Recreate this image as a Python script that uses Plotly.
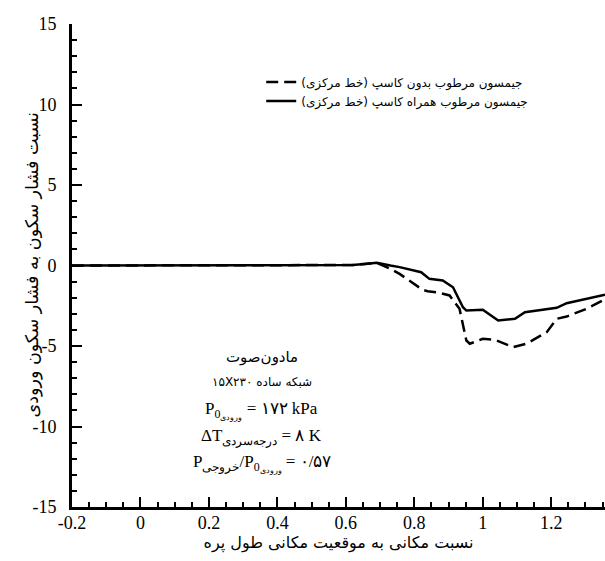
import plotly.graph_objects as go

# Series: without cusp (dashed) and with cusp (solid)
x_no_cusp = [-0.2, -0.1, 0.0, 0.1, 0.2, 0.3, 0.4, 0.5, 0.6, 0.62, 0.655, 0.69, 0.73, 0.757, 0.776, 0.824, 0.839, 0.865,
             0.903, 0.932, 0.952, 0.962, 1.0, 1.035, 1.089, 1.128, 1.187, 1.216, 1.245, 1.303, 1.357]
y_no_cusp = [0, 0, 0, 0, 0, 0, 0, 0, 0, 0.03, 0.1, 0.17, -0.2, -0.52, -0.8, -1.51, -1.6, -1.66,
             -1.86, -2.69, -4.66, -4.86, -4.55, -4.61, -5.07, -4.86, -4.14, -3.31, -3.17, -2.69, -2.1]

x_cusp = [-0.2, -0.1, 0.0, 0.1, 0.2, 0.3, 0.4, 0.5, 0.6, 0.62, 0.655, 0.69, 0.73, 0.757, 0.82, 0.844, 0.883,
          0.913, 0.942, 0.952, 1.0, 1.045, 1.094, 1.123, 1.216, 1.245, 1.357]
y_cusp = [0, 0, 0, 0, 0, 0, 0, 0, 0, 0.03, 0.1, 0.17, 0.0, -0.1, -0.42, -0.83, -0.93,
          -1.35, -2.59, -2.8, -2.75, -3.42, -3.31, -2.9, -2.63, -2.34, -1.82]

RLM = "\u200f"
LRM = "\u200e"

name_no_cusp = "جیمسون مرطوب بدون کاسپ (خط مرکزی)" + RLM
name_cusp = "جیمسون مرطوب همراه کاسپ (خط مرکزی)" + RLM

x_title = "نسبت مکانی به موقعیت مکانی طول پره"
y_title = "نسبت فشار سکون به فشار سکون ورودی"

x_ticks = [-0.2, 0, 0.2, 0.4, 0.6, 0.8, 1, 1.2]
x_ticklabels = ["-0.2", "0", "0.2", "0.4", "0.6", "0.8", "1", "1.2"]
y_ticks = [-15, -10, -5, 0, 5, 10, 15]
y_ticklabels = ["-15", "-10", "-5", "0", "5", "10", "15"]

info_lines = [
    ("مادون‌صوت", "DejaVu Sans", 15),
    (LRM + "۱۵X۲۳۰ شبکه ساده", "DejaVu Sans", 12),
    ("P<sub>0<sub>ورودی" + LRM + "</sub></sub> = " + LRM + "۱۷۲ kPa", "Liberation Serif", 17),
    ("ΔT<sub>درجه‌سردی" + LRM + "</sub> = " + LRM + "۸ K", "Liberation Serif", 17),
    ("P<sub>خروجی" + LRM + "</sub>/P<sub>0<sub>ورودی" + LRM + "</sub></sub> = " + LRM + "۰/۵۷", "Liberation Serif", 17),
]
info_y = [-5.7, -7.25, -9.0, -10.65, -12.3]
info_x = 0.355

fig = go.Figure()
fig.add_trace(go.Scatter(x=x_no_cusp, y=y_no_cusp, mode="lines", name=name_no_cusp,
                         line=dict(color="black", width=2.5, dash="12px,6px")))
fig.add_trace(go.Scatter(x=x_cusp, y=y_cusp, mode="lines", name=name_cusp,
                         line=dict(color="black", width=2.5)))

for (txt, fam, sz), yy in zip(info_lines, info_y):
    fig.add_annotation(x=info_x, y=yy, xref="x", yref="y", text=txt, showarrow=False,
                       font=dict(family=fam, size=sz, color="black"), xanchor="center", yanchor="middle")

# y-axis title placed as a rotated annotation (closer to the axis than standoff allows)
fig.add_annotation(x=-40 / 533, y=0.5, xref="paper", yref="paper", text=y_title, showarrow=False,
                   textangle=-90, xanchor="center", yanchor="middle",
                   font=dict(family="DejaVu Sans", size=17.5, color="black"))

fig.update_layout(
    width=605, height=561,
    margin=dict(l=72, r=0, t=24, b=54),
    paper_bgcolor="white", plot_bgcolor="white",
    showlegend=True,
    legend=dict(x=0.355, y=0.91, xanchor="left", yanchor="top", bgcolor="rgba(0,0,0,0)",
                font=dict(family="DejaVu Sans", size=12, color="black"), tracegroupgap=0),
    xaxis=dict(range=[-0.2, 1.357], tickmode="array", tickvals=x_ticks, ticktext=x_ticklabels,
               ticks="inside", ticklen=10, tickwidth=2, tickcolor="black",
               minor=dict(dtick=0.05, ticks="inside", ticklen=5, tickwidth=1.5, tickcolor="black"),
               showline=True, linecolor="black", linewidth=3, showgrid=False, zeroline=False,
               tickfont=dict(family="Liberation Serif", size=18, color="black"),
               ticklabelstandoff=-3,
               title=dict(text=x_title, font=dict(family="DejaVu Sans", size=16, color="black"), standoff=6)),
    yaxis=dict(range=[-15, 15], tickmode="array", tickvals=y_ticks, ticktext=y_ticklabels,
               ticks="inside", ticklen=10, tickwidth=2, tickcolor="black",
               minor=dict(dtick=1, ticks="inside", ticklen=5, tickwidth=1.5, tickcolor="black"),
               showline=True, linecolor="black", linewidth=3, showgrid=False, zeroline=False,
               tickfont=dict(family="Liberation Serif", size=18, color="black"),
               ticklabelstandoff=9),
)

fig.write_html("out.html")
